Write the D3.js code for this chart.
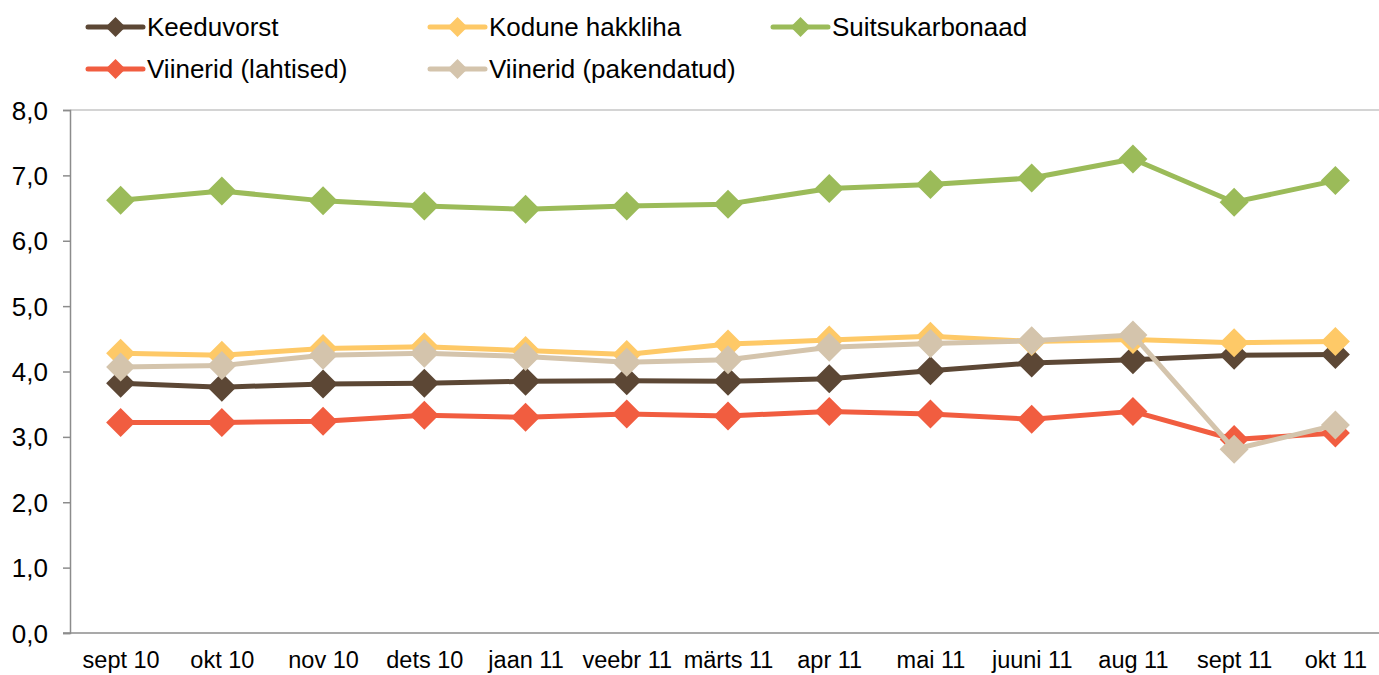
<!DOCTYPE html>
<html>
<head>
<meta charset="utf-8">
<script src="https://cdn.jsdelivr.net/npm/d3@7"></script>
<style>
  html, body { margin: 0; padding: 0; background: #fff; }
  svg { display: block; font-family: Arial, "Liberation Sans", sans-serif; }
</style>
</head>
<body>
<svg id="chart" width="1379" height="675"></svg>
<script>
// Months on the horizontal axis
const months = ["sept 10", "okt 10", "nov 10", "dets 10", "jaan 11", "veebr 11", "märts 11",
                "apr 11", "mai 11", "juuni 11", "aug 11", "sept 11", "okt 11"];

// Average prices per product
const keeduvorst      = [3.82, 3.76, 3.81, 3.82, 3.85, 3.86, 3.85, 3.89, 4.01, 4.13, 4.18, 4.25, 4.26];
const kodunehakkliha  = [4.28, 4.25, 4.35, 4.38, 4.32, 4.26, 4.42, 4.48, 4.54, 4.46, 4.49, 4.44, 4.46];
const suitsukarbonaad = [6.62, 6.76, 6.61, 6.53, 6.48, 6.53, 6.56, 6.80, 6.86, 6.96, 7.25, 6.59, 6.92];
const viineridLahtised   = [3.22, 3.22, 3.24, 3.33, 3.30, 3.35, 3.32, 3.39, 3.35, 3.27, 3.39, 2.96, 3.06];
const viineridPakendatud = [4.07, 4.09, 4.25, 4.28, 4.23, 4.14, 4.18, 4.37, 4.43, 4.47, 4.56, 2.81, 3.18];

// Y axis ticks
const yTicks = [0, 1, 2, 3, 4, 5, 6, 7, 8];

const series = [
  { name: "Keeduvorst",             values: keeduvorst,         color: "#5c4735" },
  { name: "Kodune hakkliha",        values: kodunehakkliha,     color: "#fec967" },
  { name: "Suitsukarbonaad",        values: suitsukarbonaad,    color: "#9bbb59" },
  { name: "Viinerid (lahtised)",    values: viineridLahtised,   color: "#f15d40" },
  { name: "Viinerid (pakendatud)",  values: viineridPakendatud, color: "#d4c4ac" }
];

const svg = d3.select("#chart");
const plotLeft = 70, plotRight = 1386, plotTop = 110, plotBottom = 633;

const x = d3.scalePoint().domain(months).range([plotLeft, plotRight]).padding(0.5);
const y = d3.scaleLinear().domain([0, 8]).range([plotBottom, plotTop]);

const fmt = v => d3.format(".1f")(v).replace(".", ",");
const axisColor = "#8c8c8c";
const fontFamily = "Arial, 'Liberation Sans', sans-serif";

// Top gridline
svg.append("line")
  .attr("x1", plotLeft).attr("x2", 1379)
  .attr("y1", y(8)).attr("y2", y(8))
  .attr("stroke", "#c6c6c6").attr("stroke-width", 1.5);

// Y axis
const yAxis = svg.append("g")
  .attr("transform", `translate(${plotLeft},0)`)
  .call(d3.axisLeft(y).tickValues(yTicks).tickFormat(fmt).tickSize(7).tickPadding(15));
yAxis.select(".domain").attr("stroke", axisColor).attr("stroke-width", 1.5);
yAxis.selectAll(".tick line").attr("stroke", axisColor).attr("stroke-width", 1.5);
yAxis.selectAll(".tick text")
  .attr("fill", "#000").attr("font-size", 26).attr("dy", "0.35em")
  .style("font-family", fontFamily);

// X axis
const xAxis = svg.append("g")
  .attr("transform", `translate(0,${plotBottom})`)
  .call(d3.axisBottom(x).tickSize(0).tickPadding(18));
xAxis.select(".domain").remove();
svg.append("line")
  .attr("x1", plotLeft - 7).attr("x2", 1379)
  .attr("y1", plotBottom).attr("y2", plotBottom)
  .attr("stroke", axisColor).attr("stroke-width", 1.5);
xAxis.selectAll(".tick text")
  .attr("fill", "#000").attr("font-size", 23.5)
  .style("font-family", fontFamily);

// Diamond marker path with half-diagonal r
const diamond = r => `M0,${-r}L${r},0L0,${r}L${-r},0Z`;

const line = d3.line()
  .x((d, i) => x(months[i]))
  .y(d => y(d));

// Series drawn in order, later ones on top
const seriesG = svg.append("g");
series.forEach(s => {
  const g = seriesG.append("g");
  g.append("path")
    .datum(s.values)
    .attr("d", line)
    .attr("fill", "none")
    .attr("stroke", s.color)
    .attr("stroke-width", 5)
    .attr("stroke-linejoin", "round");
  g.selectAll("path.marker")
    .data(s.values)
    .join("path")
    .attr("class", "marker")
    .attr("transform", (d, i) => `translate(${x(months[i])},${y(d)})`)
    .attr("d", diamond(14.5))
    .attr("fill", s.color);
});

// Legend
const legendPos = [
  { x: 88,  y: 27 }, { x: 430, y: 27 }, { x: 773, y: 27 },
  { x: 88,  y: 69 }, { x: 430, y: 69 }
];
const legend = svg.append("g");
series.forEach((s, i) => {
  const p = legendPos[i];
  const g = legend.append("g").attr("transform", `translate(${p.x},${p.y})`);
  g.append("line")
    .attr("x1", 0).attr("x2", 55).attr("y1", 0).attr("y2", 0)
    .attr("stroke", s.color).attr("stroke-width", 5).attr("stroke-linecap", "round");
  g.append("path").attr("d", diamond(10)).attr("transform", "translate(27.5,0)").attr("fill", s.color);
  g.append("text")
    .attr("x", 59).attr("y", 0).attr("dy", "0.35em")
    .attr("font-size", 26).attr("fill", "#000")
    .style("font-family", fontFamily)
    .text(s.name);
});
</script>
</body>
</html>
